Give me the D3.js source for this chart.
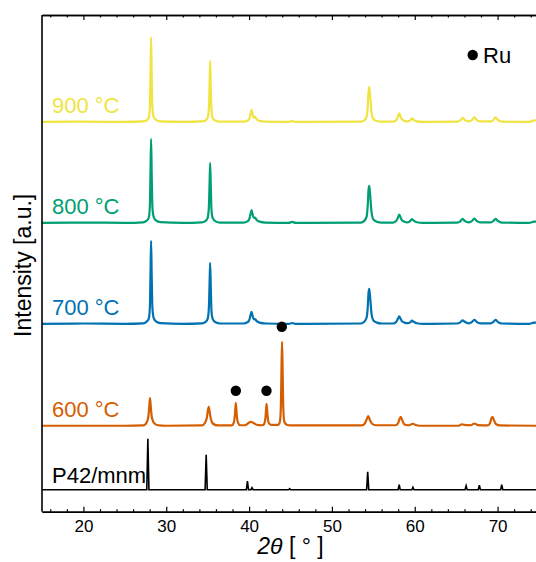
<!DOCTYPE html>
<html>
<head>
<meta charset="utf-8">
<script src="https://cdn.jsdelivr.net/npm/d3@7"></script>
<style>
  html, body { margin: 0; padding: 0; background: #fff; }
  svg { display: block; font-family: "Liberation Sans", Arial, sans-serif; }
</style>
</head>
<body>
<svg id="chart" width="536" height="562"></svg>
<script>
// ---------- data (2θ in degrees, intensity in a.u.) ----------
const seriesNames = ["900 °C", "800 °C", "700 °C", "600 °C"];
const seriesColors = ["#f0e442", "#009e73", "#0072b2", "#d55e00"];
const seriesOffsets = [390, 289, 188, 86];
const refName = "P42/mnm";
const refOffset = 22;
const xTicksMajor = [20, 30, 40, 50, 60, 70];

const pattern900 = [
  [15,0],[20,0.3],[25,0],[27.2,0.5],[27.6,1.5],[27.88,4],[28.02,14],[28.09,42],[28.17,85],[28.25,42],[28.33,14],[28.48,5],[28.75,2],[29.3,0.5],
  [32,0],[34.3,0.5],[34.75,1.5],[35.0,4],[35.14,13],[35.22,33],[35.3,61],[35.38,33],[35.46,12],[35.6,4],[35.9,1.5],[36.5,0.3],
  [39.3,0.3],[39.85,1.5],[40.07,4],[40.2,9],[40.3,12],[40.42,8],[40.54,5],[40.64,4.5],[40.74,5],[40.88,3],[41.25,1],[42,0.3],
  [44.8,0],[45.2,1],[45.6,0],
  [53.5,0.3],[53.9,1.5],[54.18,5],[54.32,15],[54.42,30],[54.5,35],[54.58,30],[54.66,22],[54.78,10],[55.0,3],[55.4,1],[56,0.3],
  [57.4,0.3],[57.75,1.5],[57.96,5],[58.12,8.5],[58.26,6],[58.42,3],[58.75,1],[59.15,0.5],[59.45,1.5],[59.65,3.5],[59.88,2],[60.25,0.5],
  [61,0],[65.1,0.3],[65.5,1.5],[65.78,4],[66.03,2],[66.5,0.5],[66.85,1.5],[67.2,4.5],[67.47,2],[67.9,0.5],[69.2,0.5],[69.5,2],[69.75,4.5],[70.02,2],[70.5,0.3],
  [73.8,0],[74.4,1.5],[75,1]
];

const pattern800 = [
  [15,0],[20,0.3],[25,0],[27.2,0.5],[27.6,2],[27.88,5],[28.02,16],[28.09,46],[28.17,84],[28.25,46],[28.33,16],[28.48,6],[28.75,2.5],[29.3,0.7],
  [32,0],[34.3,0.5],[34.75,2],[35.0,5],[35.14,15],[35.22,36],[35.3,60],[35.38,35],[35.46,13],[35.6,5],[35.95,1.5],[36.5,0.3],
  [39.3,0.3],[39.85,1.8],[40.07,5],[40.2,10],[40.3,12.7],[40.42,8.5],[40.54,5.5],[40.64,5],[40.74,5.2],[40.88,3.2],[41.25,1.2],[42,0.3],
  [44.8,0],[45.2,1],[45.6,0],
  [53.5,0.3],[53.9,2],[54.18,6],[54.32,17],[54.42,33],[54.5,37],[54.58,32],[54.66,23],[54.78,11],[55.0,3.5],[55.4,1.2],[56,0.3],
  [57.4,0.3],[57.75,1.8],[57.96,5],[58.12,8.4],[58.26,6],[58.42,3],[58.75,1.2],[59.15,0.6],[59.45,1.8],[59.65,3.7],[59.88,2.2],[60.25,0.6],
  [61,0],[65.1,0.3],[65.5,1.5],[65.78,4],[66.03,2],[66.5,0.5],[66.85,1.5],[67.2,4.3],[67.47,2],[67.9,0.5],[69.2,0.5],[69.5,2],[69.75,4],[70.02,2],[70.5,0.3],
  [73.8,0],[74.4,1.2],[75,1]
];

const pattern700 = [
  [15,0],[20,0.3],[25,0],[27.2,0.5],[27.6,2],[27.88,5],[28.02,16],[28.09,45],[28.17,83],[28.25,45],[28.33,16],[28.48,6],[28.75,2.5],[29.3,0.7],
  [32,0],[34.3,0.5],[34.75,2],[35.0,5],[35.14,15],[35.22,37],[35.3,61],[35.38,35],[35.46,13],[35.6,5],[35.95,1.5],[36.5,0.3],
  [39.3,0.3],[39.85,1.8],[40.07,5],[40.2,9.5],[40.3,12],[40.42,8],[40.54,5],[40.64,4.5],[40.74,4.8],[40.88,3],[41.25,1.2],[42,0.3],
  [44.8,0],[45.2,0.8],[45.6,0],
  [53.5,0.3],[53.9,2],[54.18,6],[54.32,16],[54.42,31],[54.5,35],[54.58,30],[54.66,22],[54.78,10],[55.0,3.5],[55.4,1.2],[56,0.3],
  [57.4,0.3],[57.75,1.8],[57.96,5],[58.12,7.5],[58.26,5.5],[58.42,3],[58.75,1.2],[59.15,0.6],[59.45,1.5],[59.65,3.2],[59.88,2],[60.25,0.6],
  [61,0],[65.1,0.3],[65.5,1.5],[65.78,3.5],[66.03,2],[66.5,0.5],[66.85,1.5],[67.2,4],[67.47,2],[67.9,0.5],[69.2,0.5],[69.5,2],[69.75,4],[70.02,2],[70.5,0.3],
  [73.8,0],[74.4,1.2],[75,1]
];

const pattern600 = [
  [15,0],[25,0],[27.2,0.3],[27.55,2],[27.82,8],[27.94,18],[28.04,28],[28.14,18],[28.27,8],[28.55,2.5],[29,0.5],[30,0],
  [34.3,0.3],[34.65,2.5],[34.9,8],[35.02,15],[35.13,19],[35.24,14],[35.38,7],[35.65,2],[36.2,0.3],
  [37.9,0.3],[38.15,3],[38.3,12],[38.4,23],[38.5,12],[38.65,3],[38.95,0.5],
  [39.5,0.5],[39.9,2.5],[40.2,4],[40.5,3],[40.9,1],[41.5,0.5],
  [41.75,1],[41.95,6],[42.04,15],[42.12,22],[42.21,12],[42.36,3],[42.65,0.8],
  [43.5,0.8],[43.72,4],[43.84,20],[43.91,55],[43.98,84],[44.05,55],[44.12,20],[44.25,4],[44.55,1],[45,0.3],
  [53.6,0.3],[53.95,2],[54.18,6],[54.38,9.7],[54.57,6],[54.85,2],[55.3,0.5],
  [57.7,0.5],[57.98,2.5],[58.18,7],[58.32,9],[58.47,6],[58.72,1.5],[59.2,0.5],[59.6,1.5],[59.8,2],[60.05,1],[60.6,0],
  [65.3,0],[65.6,1.2],[65.75,1.5],[65.95,0.8],[66.8,0.5],[67.1,2],[67.3,2],[67.6,0.6],
  [68.8,0.3],[69.08,2.5],[69.28,8],[69.4,9],[69.54,6],[69.82,1.5],[70.3,0.3],[75,0]
];

// reference sticks: [2θ, relative intensity]
const refSticks = [
  [27.78,51],[34.82,35],[39.8,8.5],[40.35,2],[44.9,1],[54.32,18],
  [58.12,5],[59.78,2.5],[66.2,4],[67.8,4.5],[70.5,5]
];

// Ru markers: [2θ, height above the 600 °C baseline]
const ruMarkers = [[38.4,35],[42.1,35],[43.95,99]];

const patterns = [pattern900, pattern800, pattern700, pattern600];

// ---------- layout ----------
const svg = d3.select("#chart");
const L = 42, R = 539, T = 15, B = 511.7;
const x = d3.scaleLinear().domain([15, 75]).range([L, R]);
const y = d3.scaleLinear().domain([0, 497]).range([B, T]);

const line = d3.line()
  .x(d => x(d[0]))
  .y(d => y(d[1]))
  .curve(d3.curveMonotoneX);

// traces
patterns.forEach((p, i) => {
  const off = seriesOffsets[i];
  svg.append("path")
    .datum(p.map(d => [d[0], d[1] + off]))
    .attr("fill", "none")
    .attr("stroke", seriesColors[i])
    .attr("stroke-width", 2.2)
    .attr("stroke-linejoin", "round")
    .attr("d", line);
  svg.append("text")
    .attr("x", 52)
    .attr("y", y(off) - 9)
    .attr("fill", seriesColors[i])
    .attr("font-size", 22)
    .text(seriesNames[i]);
});

// reference pattern
const refPts = [[15, 0]];
refSticks.forEach(s => {
  refPts.push([s[0] - 0.13, 0], [s[0], s[1]], [s[0] + 0.13, 0]);
});
refPts.push([75, 0]);
svg.append("path")
  .datum(refPts.map(d => [d[0], d[1] + refOffset]))
  .attr("fill", "none")
  .attr("stroke", "#000")
  .attr("stroke-width", 1.6)
  .attr("d", d3.line().x(d => x(d[0])).y(d => y(d[1])));
svg.append("text")
  .attr("x", 52)
  .attr("y", y(refOffset) - 7)
  .attr("fill", "#000")
  .attr("font-size", 22)
  .text(refName);

// Ru markers
svg.selectAll("circle.ru")
  .data(ruMarkers)
  .join("circle")
  .attr("class", "ru")
  .attr("cx", d => x(d[0]))
  .attr("cy", d => y(d[1] + seriesOffsets[3]))
  .attr("r", 5.2)
  .attr("fill", "#000");

// legend
svg.append("circle").attr("cx", 472.7).attr("cy", 55).attr("r", 5.2).attr("fill", "#000");
svg.append("text").attr("x", 483).attr("y", 63).attr("font-size", 22).attr("fill", "#000").text("Ru");

// ---------- axes ----------
const minorTicks = d3.range(16, 75, 2).filter(v => v % 10 !== 0);
const gB = svg.append("g").attr("transform", `translate(0,${B})`);
gB.call(d3.axisBottom(x).tickValues(minorTicks).tickSize(-2.5).tickFormat("").tickSizeOuter(0));
gB.call(g => g.append("g").call(d3.axisBottom(x).tickValues(xTicksMajor).tickSize(-5).tickSizeOuter(0).tickPadding(8)));
const gT = svg.append("g").attr("transform", `translate(0,${T})`);
gT.call(d3.axisTop(x).tickValues(minorTicks).tickSize(-2.5).tickFormat("").tickSizeOuter(0));
gT.call(g => g.append("g").call(d3.axisTop(x).tickValues(xTicksMajor).tickSize(-5).tickFormat("").tickSizeOuter(0)));
svg.selectAll(".domain").attr("stroke", "#000").attr("stroke-width", 1.6);
svg.selectAll(".tick line").attr("stroke", "#000").attr("stroke-width", 1.2);
svg.selectAll(".tick text").attr("font-size", 17).attr("font-family", "Liberation Sans, Arial, sans-serif").attr("fill", "#000");

// left / right frame
svg.append("line").attr("x1", L).attr("x2", L).attr("y1", T).attr("y2", B).attr("stroke", "#000").attr("stroke-width", 1.6);
svg.append("line").attr("x1", R).attr("x2", R).attr("y1", T).attr("y2", B).attr("stroke", "#000").attr("stroke-width", 1.6);

// axis titles
const xt = svg.append("text")
  .attr("x", (L + R) / 2)
  .attr("y", 554)
  .attr("text-anchor", "middle")
  .attr("font-size", 23)
  .attr("fill", "#000");
xt.append("tspan").attr("font-style", "italic").text("2θ");
xt.append("tspan").text(" [ ° ]");

svg.append("text")
  .attr("transform", `translate(31,${(T + B) / 2 + 2}) rotate(-90)`)
  .attr("text-anchor", "middle")
  .attr("font-size", 23)
  .attr("fill", "#000")
  .text("Intensity [a.u.]");
</script>
</body>
</html>
